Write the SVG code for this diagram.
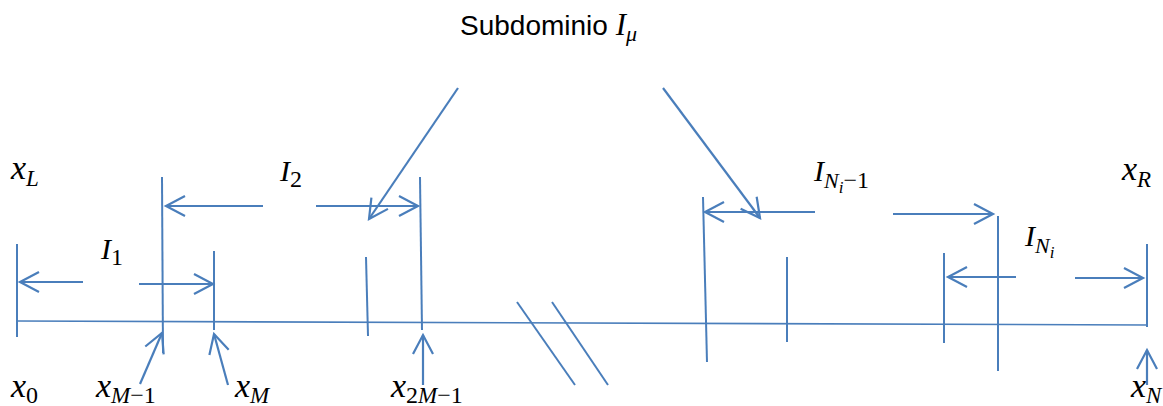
<svg xmlns="http://www.w3.org/2000/svg" width="1163" height="406" viewBox="0 0 1163 406">
<style>
.ln{stroke:#4A7EBB;stroke-width:2;fill:none;stroke-linecap:butt}
.ax{stroke:#4A7EBB;stroke-width:1.6;fill:none}
.ar{stroke:#4A7EBB;stroke-width:2.2;fill:none;marker-end:url(#ah)}
.m{font-family:"Liberation Serif","DejaVu Serif",serif;font-style:italic;fill:#000}
.t{font-family:"Liberation Sans",Arial,sans-serif;fill:#000}
</style>
<defs>
<marker id="ah" viewBox="-21 -12 24 24" refX="0" refY="0" markerWidth="24" markerHeight="24" markerUnits="userSpaceOnUse" orient="auto">
<path d="M-19,-10 L0,0 L-19,10" fill="none" stroke="#4A7EBB" stroke-width="2.2"/>
</marker>
</defs>
<g id="connectors">
<line class="ax" x1="17" y1="321" x2="1147" y2="325"/>
<line class="ln" x1="17" y1="244" x2="17" y2="337"/>
<line class="ln" x1="162" y1="177" x2="163" y2="353"/>
<line class="ln" x1="214" y1="251" x2="214" y2="330"/>
<line class="ln" x1="366" y1="257" x2="368" y2="336"/>
<line class="ln" x1="420" y1="177" x2="422" y2="330"/>
<line class="ln" x1="703" y1="197" x2="707" y2="362"/>
<line class="ln" x1="787" y1="257" x2="787" y2="342"/>
<line class="ln" x1="944" y1="253" x2="944" y2="343"/>
<line class="ln" x1="998" y1="216" x2="998" y2="371"/>
<line class="ln" x1="1147" y1="244" x2="1147" y2="327"/>
<line class="ar" x1="83" y1="282" x2="20" y2="282"/>
<line class="ar" x1="139" y1="284" x2="213" y2="284"/>
<line class="ar" x1="263" y1="206" x2="166" y2="206"/>
<line class="ar" x1="316" y1="206" x2="418" y2="206"/>
<line class="ar" x1="815" y1="212" x2="705" y2="212"/>
<line class="ar" x1="893" y1="214" x2="993" y2="214"/>
<line class="ar" x1="1016" y1="277" x2="948" y2="277"/>
<line class="ar" x1="1075" y1="278" x2="1143" y2="278"/>
<line class="ar" x1="458" y1="88" x2="369" y2="219"/>
<line class="ar" x1="663" y1="88" x2="760" y2="218"/>
<line class="ar" x1="140" y1="384" x2="162" y2="333"/>
<line class="ar" x1="228" y1="385" x2="214" y2="334"/>
<line class="ar" x1="423" y1="385" x2="423" y2="335"/>
<line class="ar" x1="1147" y1="385" x2="1147" y2="350"/>
<line class="ln" x1="517" y1="302" x2="575" y2="385"/>
<line class="ln" x1="552" y1="302" x2="608" y2="385"/>
</g>
<g id="title"><text class="t" x="460" y="35" font-size="28">Subdominio <tspan class="m" font-size="31">I</tspan><tspan class="m" font-size="22" dy="6">μ</tspan></text></g>
<g id="xL"><text class="m" x="11" y="179" font-size="34">x<tspan font-size="23" dy="7">L</tspan></text></g>
<g id="x0"><text class="m" x="11" y="397" font-size="34">x<tspan font-size="24" dy="6" font-style="normal">0</tspan></text></g>
<g id="xM1"><text class="m" x="96" y="397" font-size="34">x<tspan font-size="23" dy="6">M</tspan><tspan font-size="24" font-style="normal">−1</tspan></text></g>
<g id="xM"><text class="m" x="235" y="397" font-size="34">x<tspan font-size="23" dy="6">M</tspan></text></g>
<g id="x2M1"><text class="m" x="391" y="397" font-size="34">x<tspan font-size="24" dy="6" font-style="normal">2</tspan><tspan font-size="23">M</tspan><tspan font-size="24" font-style="normal">−1</tspan></text></g>
<g id="xR"><text class="m" x="1122" y="180" font-size="34">x<tspan font-size="23" dy="7">R</tspan></text></g>
<g id="xN"><text class="m" x="1131" y="397" font-size="34">x<tspan font-size="23" dy="6">N</tspan></text></g>
<g id="I1"><text class="m" x="101" y="259" font-size="30">I<tspan font-size="24" dy="6" font-style="normal">1</tspan></text></g>
<g id="I2"><text class="m" x="280" y="181" font-size="30">I<tspan font-size="24" dy="6" font-style="normal">2</tspan></text></g>
<g id="INi1"><text class="m" x="814" y="181" font-size="30">I<tspan font-size="22" dy="7">N</tspan><tspan font-size="17" dy="5">i</tspan><tspan font-size="24" dy="-5" font-style="normal">−1</tspan></text></g>
<g id="INi"><text class="m" x="1025" y="246" font-size="30">I<tspan font-size="22" dy="7">N</tspan><tspan font-size="17" dy="5">i</tspan></text></g>
</svg>
